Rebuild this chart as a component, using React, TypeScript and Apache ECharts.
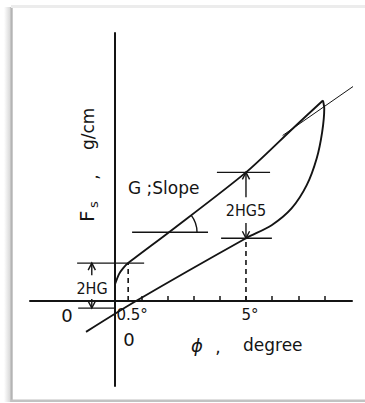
import React, { useEffect, useRef } from "react";
import * as echarts from "echarts";

// Loading branch of the hysteresis loop: [phi (degree), Fs (g/cm)]
const upperBranch: number[][] = [
  [0, 0.65], [0.15, 1.03], [0.31, 1.26], [0.5, 1.45], [2.06, 2.63],
  [5, 4.92], [6.79, 6.6], [7.94, 7.67],
];

// Unloading branch, from below the origin up to the loop tip
const lowerBranch: number[][] = [
  [-1.11, -1.18], [0.8, 0], [5, 2.4], [5.98, 2.9], [6.74, 3.54],
  [7.32, 4.43], [7.7, 5.45], [7.91, 6.46], [7.99, 7.36], [7.94, 7.67],
];

// Thin slope line G running past the tip
const slopeLine: number[][] = [[6.4, 6.33], [9.1, 8.21]];

// Dashed drop lines at 0.5 and 5 degrees
const dropLines: number[][][] = [
  [[0.5, 0], [0.5, 1.45]],
  [[5, 0], [5, 2.4]],
];

// Horizontal reference strokes (2HG, 2HG5 and the slope base)
const refLines: number[][][] = [
  [[-1.45, 1.45], [1.11, 1.45]],
  [[-1.41, -0.27], [0, -0.27]],
  [[3.89, 4.92], [5.92, 4.92]],
  [[4.05, 2.4], [5.99, 2.4]],
  [[0.65, 2.63], [3.55, 2.63]],
];

// Dimension arrows: [phi, from Fs, to Fs] (head at the "to" end)
const arrows: number[][] = [
  [-0.89, 0.99, 1.45],
  [-0.89, 0.08, -0.27],
  [5, 3.97, 4.92],
  [5, 2.98, 2.4],
];

// Slope angle mark: vertex on the loading branch and a point further along it
const slopeAngle: number[][] = [[2.06, 2.63, 5, 4.92]];

const tickValues = [1, 2, 3, 4, 5, 6, 7, 8];
const labelValues = [0.5, 5];

const INK = "#141414";
const FONT = "DejaVu Sans";

export default function App() {
  const ref = useRef<HTMLDivElement>(null);

  useEffect(() => {
    if (!ref.current) return;
    const chart = echarts.init(ref.current, undefined, { renderer: "svg" });

    const plain = (data: number[][], width: number, extra: any = {}) => ({
      type: "line",
      data,
      symbol: "none",
      silent: true,
      clip: false,
      lineStyle: { color: INK, width, ...extra },
      z: 3,
    });

    const series: any[] = [
      { ...plain(upperBranch, 1.9), smooth: 0.25 },
      { ...plain(lowerBranch, 1.9), smooth: 0.3 },
      plain(slopeLine, 1),
      ...dropLines.map((d) => plain(d, 1.6, { type: [5, 4] })),
      ...refLines.map((d) => plain(d, 1.4)),
      {
        type: "custom",
        data: arrows,
        clip: false,
        silent: true,
        z: 4,
        renderItem: (_p: any, api: any) => {
          const x = api.value(0);
          const a = api.coord([x, api.value(1)]);
          const b = api.coord([x, api.value(2)]);
          const dir = b[1] > a[1] ? 1 : -1;
          const w = 3.6;
          const h = 7;
          return {
            type: "group",
            children: [
              {
                type: "line",
                shape: { x1: a[0], y1: a[1], x2: b[0], y2: b[1] },
                style: { stroke: INK, lineWidth: 1.4 },
              },
              {
                type: "polyline",
                shape: {
                  points: [
                    [b[0] - w, b[1] - dir * h],
                    [b[0], b[1]],
                    [b[0] + w, b[1] - dir * h],
                  ],
                },
                style: { stroke: INK, lineWidth: 1.4, fill: "none" },
              },
            ],
          };
        },
      },
      {
        type: "custom",
        data: slopeAngle,
        clip: false,
        silent: true,
        z: 4,
        renderItem: (_p: any, api: any) => {
          const c = api.coord([api.value(0), api.value(1)]);
          const q = api.coord([api.value(2), api.value(3)]);
          const ang = Math.atan2(q[1] - c[1], q[0] - c[0]);
          return {
            type: "arc",
            shape: { cx: c[0], cy: c[1], r: 28, startAngle: ang, endAngle: 0, clockwise: true },
            style: { stroke: INK, lineWidth: 1.4, fill: "none" },
          };
        },
      },
      // degree labels hanging just under the phi axis
      {
        type: "custom",
        data: labelValues.map((v) => [v, 0]),
        clip: false,
        silent: true,
        z: 4,
        renderItem: (_p: any, api: any) => {
          const v = api.value(0);
          const p = api.coord([v, 0]);
          return {
            type: "text",
            x: p[0] + 4,
            y: p[1] + 6,
            style: {
              text: `${v}°`,
              fill: INK,
              fontFamily: FONT,
              fontSize: 15,
              textAlign: "center",
              textVerticalAlign: "top",
            },
          };
        },
      },
    ];

    const txt = (text: string, x: number, y: number, extra: any = {}, el: any = {}) => ({
      type: "text",
      x,
      y,
      silent: true,
      ...el,
      style: {
        text,
        fill: INK,
        fontFamily: FONT,
        fontSize: 17,
        textAlign: "center",
        textVerticalAlign: "middle",
        ...extra,
      },
    });

    chart.setOption({
      animation: false,
      backgroundColor: "#ffffff",
      grid: { left: 30, top: 33, width: 322, height: 353 },
      xAxis: {
        type: "value",
        min: -3.25,
        max: 9.05,
        axisLine: { show: true, onZero: true, lineStyle: { color: INK, width: 2 } },
        axisTick: {
          show: true,
          inside: true,
          length: 5,
          customValues: tickValues,
          lineStyle: { color: INK, width: 1.5 },
        },
        axisLabel: { show: false },
        splitLine: { show: false },
      },
      yAxis: {
        type: "value",
        min: -3.25,
        max: 10.25,
        axisLine: { show: true, onZero: true, lineStyle: { color: INK, width: 2 } },
        axisTick: { show: false },
        axisLabel: { show: false },
        splitLine: { show: false },
      },
      series,
      graphic: [
        // framed print border with a soft shadow on the left
        {
          type: "rect",
          shape: { x: 4, y: 7, width: 7, height: 395 },
          style: {
            fill: new echarts.graphic.LinearGradient(0, 0, 1, 0, [
              { offset: 0, color: "rgba(200,200,200,0)" },
              { offset: 1, color: "rgba(200,200,200,0.8)" },
            ]),
          },
          silent: true,
        },
        { type: "rect", shape: { x: 10.5, y: 7, width: 2.2, height: 395 }, style: { fill: "#b4b4b4" }, silent: true },
        { type: "rect", shape: { x: 11, y: 5, width: 354, height: 3 }, style: { fill: "#ececec" }, silent: true },
        { type: "rect", shape: { x: 11, y: 399.5, width: 354, height: 2.5 }, style: { fill: "#c2c2c2" }, silent: true },

        txt("G ;Slope", 128, 188, { textAlign: "left" }),
        txt("2HG", 92, 288.5, { fontFamily: "DejaVu Sans Condensed", fontSize: 16 }),
        txt("2HG5", 246, 210, { fontFamily: "DejaVu Sans Condensed", fontSize: 16 }),
        txt("0", 67, 315, { fontSize: 18 }),
        txt("0", 129, 339, { fontSize: 18 }),
        txt("ϕ", 197, 345, { fontSize: 18, fontStyle: "italic" }),
        txt(",", 218, 347, { fontSize: 17 }),
        txt("degree", 243, 345, { textAlign: "left" }),
        txt("F", 87, 222, { textAlign: "left", fontSize: 20 }, { rotation: Math.PI / 2 }),
        txt("s", 93, 208, { textAlign: "left", fontSize: 13 }, { rotation: Math.PI / 2 }),
        txt(",", 92, 177, { textAlign: "center" }, { rotation: Math.PI / 2 }),
        txt("g/cm", 88, 150, { textAlign: "left" }, { rotation: Math.PI / 2 }),
      ],
    });

    return () => chart.dispose();
  }, []);

  return (
    <div
      ref={ref}
      style={{ position: "absolute", left: 0, top: 0, width: 365, height: 403 }}
    />
  );
}
